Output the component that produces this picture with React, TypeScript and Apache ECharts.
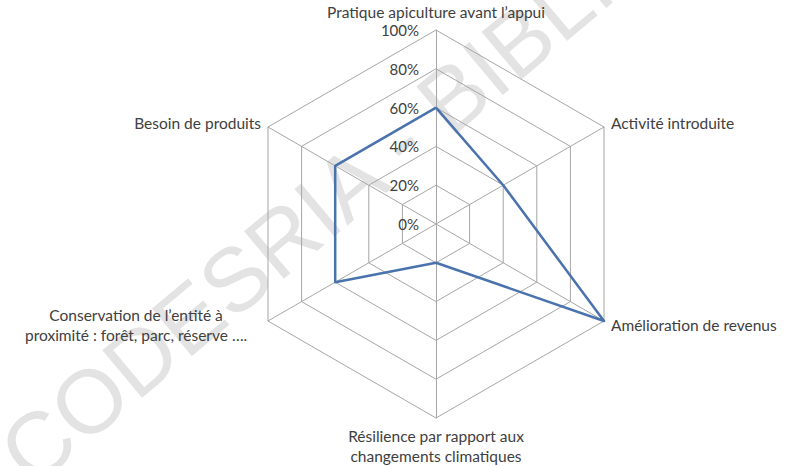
import React, { useEffect, useRef } from "react";
import * as echarts from "echarts";

// Categories listed clockwise from the top, as in the reference
const categories = [
  "Pratique apiculture avant l’appui",
  "Activité introduite",
  "Amélioration de revenus",
  "Résilience par rapport aux\nchangements climatiques",
  "Conservation de l’entité à\nproximité : forêt, parc, réserve ….",
  "Besoin de produits",
];
const seriesValues = [60, 40, 100, 20, 60, 60];
const tickValues = [0, 20, 40, 60, 80, 100];
const tickSuffix = "%";

const FONT = "Lato, 'Open Sans', sans-serif";
const TEXT = "#404040";
const GRID = "#a6a6a6";

export default function App() {
  const ref = useRef<HTMLDivElement>(null);
  useEffect(() => {
    document.body.style.margin = "0";
    const chart = echarts.init(ref.current!, null, { renderer: "svg" });
    const center = [436, 224];
    const radius = 194;
    // ECharts radar runs counter-clockwise: reorder so the picture reads clockwise
    const order = [0, ...categories.map((_, i) => i).slice(1).reverse()];
    const indicator = order.map((i) => ({ name: categories[i], min: 0, max: 100 }));
    const values = order.map((i) => seriesValues[i]);
    chart.setOption({
      animation: false,
      backgroundColor: "#ffffff",
      textStyle: { fontFamily: FONT },
      graphic: [
        {
          type: "text",
          x: 42,
          y: 500,
          rotation: (40 * Math.PI) / 180,
          z: -10,
          silent: true,
          style: {
            text: "CODESRIA - BIBLIOTHEQUE",
            fill: "#e3e3e3",
            font: "90px 'Liberation Sans', sans-serif",
            textAlign: "left",
            textVerticalAlign: "bottom",
          },
        },
      ],
      radar: {
        center,
        radius,
        startAngle: 90,
        shape: "polygon",
        splitNumber: 5,
        nameGap: 8,
        axisName: {
          color: TEXT,
          fontSize: 15.5,
          fontFamily: FONT,
          lineHeight: 20,
          formatter: (name: string) =>
            name.includes("\n")
              ? name
                  .split("\n")
                  .map((l) => `{c|${l}}`)
                  .join("\n")
              : name,
          rich: {
            c: {
              width: 250,
              align: "center",
              color: TEXT,
              fontSize: 15.5,
              fontFamily: FONT,
              lineHeight: 20,
            },
          },
        },
        indicator,
        axisLine: { lineStyle: { color: GRID, width: 1 } },
        splitLine: { lineStyle: { color: GRID, width: 1 } },
        splitArea: { show: false },
        axisTick: { show: false },
        axisLabel: { show: false },
      },
      polar: { center, radius },
      angleAxis: {
        startAngle: 90,
        show: false,
        min: 0,
        max: 360,
      },
      radiusAxis: {
        min: tickValues[0],
        max: tickValues[tickValues.length - 1],
        interval: tickValues[1] - tickValues[0],
        axisLine: { show: false },
        axisTick: { show: false },
        splitLine: { show: false },
        axisLabel: {
          color: TEXT,
          fontSize: 15,
          fontFamily: FONT,
          margin: 17,
          formatter: (v: number) => `${v}${tickSuffix}`,
        },
        z: 5,
      },
      series: [
        {
          type: "radar",
          symbol: "none",
          lineStyle: { color: "#4a72ac", width: 2.5 },
          data: [{ value: values }],
        },
      ],
    });
    return () => chart.dispose();
  }, []);
  return <div ref={ref} style={{ width: 798, height: 466 }} />;
}
